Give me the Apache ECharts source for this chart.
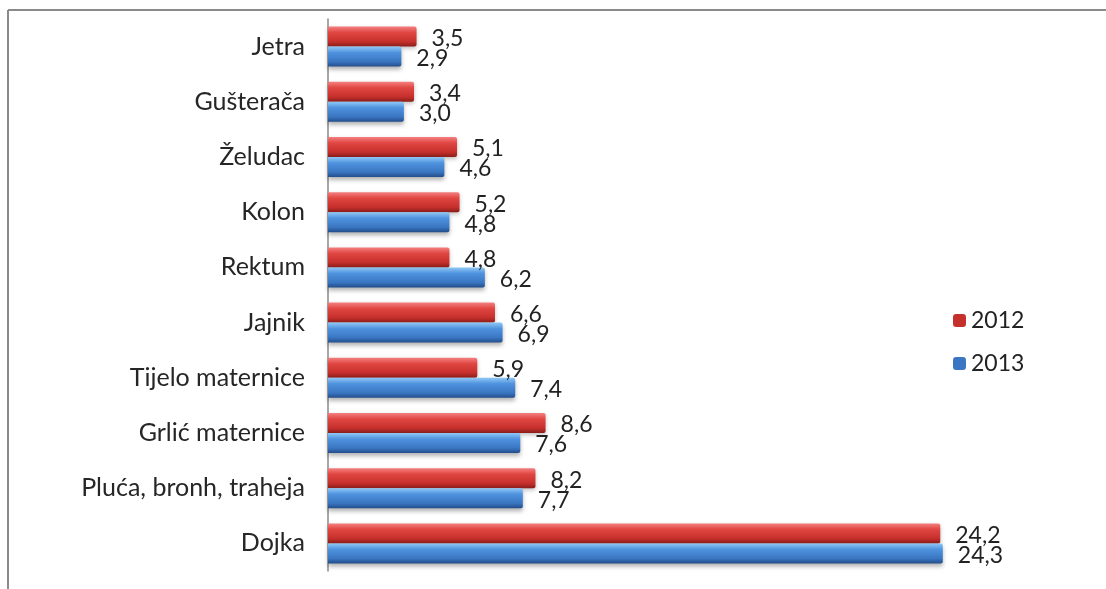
<!DOCTYPE html>
<html>
<head>
<meta charset="utf-8">
<script src="https://cdn.jsdelivr.net/npm/echarts@6/dist/echarts.min.js"></script>
<style>
html,body{margin:0;padding:0;background:#fff;}
#c{width:1106px;height:589px;}
</style>
</head>
<body>
<div id="c"></div>
<script>
const categories = ["Jetra", "Gušterača", "Želudac", "Kolon", "Rektum", "Jajnik", "Tijelo maternice", "Grlić maternice", "Pluća, bronh, traheja", "Dojka"];
const values2012 = [3.5, 3.4, 5.1, 5.2, 4.8, 6.6, 5.9, 8.6, 8.2, 24.2];
const values2013 = [2.9, 3.0, 4.6, 4.8, 6.2, 6.9, 7.4, 7.6, 7.7, 24.3];
const seriesNames = ["2012", "2013"];

const FONT = "Lato";
function grad(c0, c1, c2, c3) {
  return new echarts.graphic.LinearGradient(0, 0, 0, 1, [
    {offset: 0, color: c0}, {offset: 0.3, color: c1}, {offset: 0.75, color: c2}, {offset: 1, color: c3}
  ]);
}
const redFill = grad('#f48080', '#e04642', '#c6302c', '#8a1c1a');
const blueFill = grad('#90c8f6', '#4f92de', '#3a76c2', '#234d8a');

function label() {
  return {
    show: true, position: 'right', distance: 15,
    fontFamily: FONT, fontSize: 23, color: '#222', offset: [0, 2],
    formatter: p => p.value.toFixed(1).replace('.', ',')
  };
}

const chart = echarts.init(document.getElementById('c'), null, {renderer: 'canvas'});
chart.setOption({
  animation: false,
  backgroundColor: '#fff',
  textStyle: {fontFamily: FONT},
  graphic: [
    {type: 'line', shape: {x1: 8, y1: 10, x2: 1106, y2: 10}, style: {stroke: '#8a8a8a', lineWidth: 2}},
    {type: 'line', shape: {x1: 8, y1: 10, x2: 8, y2: 589}, style: {stroke: '#8a8a8a', lineWidth: 2}}
  ],
  legend: {
    orient: 'vertical', left: 948, top: 304, itemWidth: 13, itemHeight: 13, itemGap: 20,
    textStyle: {fontFamily: FONT, fontSize: 23, color: '#222'},
    data: [{name: seriesNames[0], itemStyle: {color: '#c6302c'}}, {name: seriesNames[1], itemStyle: {color: '#3a76c2'}}]
  },
  grid: {left: 328, top: 19, height: 552, width: 759, containLabel: false},
  xAxis: {type: 'value', min: 0, max: 30, show: false},
  yAxis: {
    type: 'category', data: categories, inverse: true,
    axisLine: {show: true, lineStyle: {color: '#8a8a8a', width: 1.5}},
    axisTick: {show: false},
    axisLabel: {fontFamily: FONT, fontSize: 25, color: '#262626', margin: 23}
  },
  series: [
    {name: seriesNames[0], type: 'bar', data: values2012, barWidth: 20, barGap: '0%',
     itemStyle: {color: redFill, borderRadius: [0, 2, 2, 0], shadowColor: 'rgba(0,0,0,0.25)', shadowBlur: 4, shadowOffsetY: 2},
     label: label()},
    {name: seriesNames[1], type: 'bar', data: values2013, barWidth: 20, barGap: '0%',
     itemStyle: {color: blueFill, borderRadius: [0, 2, 2, 0], shadowColor: 'rgba(0,0,0,0.3)', shadowBlur: 4, shadowOffsetY: 3},
     label: label()}
  ]
});
</script>
</body>
</html>
